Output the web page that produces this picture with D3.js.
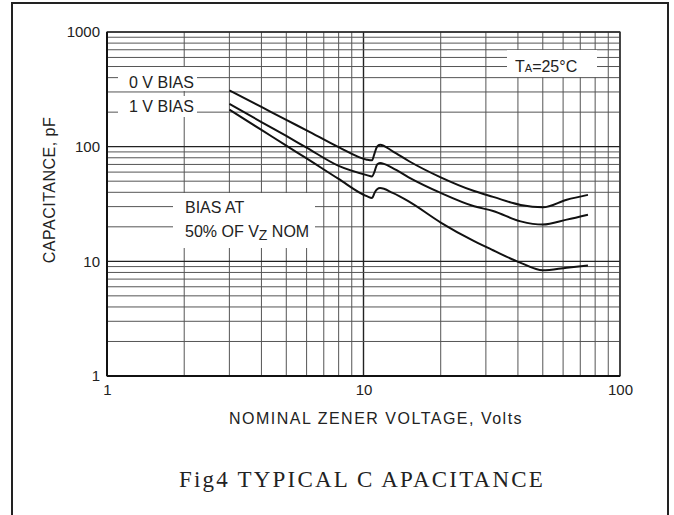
<!DOCTYPE html>
<meta charset="utf-8">
<style>

    body {
        margin: 0;
        background: #fff;
    }

    text {
        font-family: "Liberation Sans", Arial, sans-serif;
        fill: #222;
    }

    .grid line {
        stroke: #555;
        stroke-width: 1;
    }

    .grid line.major {
        stroke: #222;
        stroke-width: 1.4;
    }

    path.curve {
        fill: none;
        stroke: #111;
        stroke-width: 2;
    }

</style>
<body>
<script src="https://cdn.jsdelivr.net/npm/d3@7/dist/d3.min.js"></script>
<script>

    var width = 674;
    var height = 515;

    /////////////////////////////////
    // DATA
    /////////////////////////////////

    // nominal zener voltage, volts
    var volts = [3, 4, 5, 6, 8, 10.3, 10.8, 11.05, 11.3, 11.6, 13, 15, 20, 27, 32, 41, 50, 62, 75];

    // capacitance, pF
    var cap0V = [310, 222, 171, 139, 99, 77, 76, 88, 100, 104, 91, 75, 54, 41, 36.5, 31, 29.6, 34.5, 38];
    var cap1V = [236, 164, 124, 98, 68, 56.5, 55, 61, 70, 72, 65, 54, 39.5, 30.2, 27.5, 22.3, 20.9, 23.1, 25.5];
    var capHalf = [210, 140, 102, 79, 52.3, 37, 35.7, 39.7, 42.5, 43.5, 39.5, 33.3, 21.8, 15, 12.5, 9.7, 8.35, 8.8, 9.2];

    var xTicks = [1, 10, 100];
    var yTicks = [1, 10, 100, 1000];

    /////////////////////////////////
    // SETUP
    /////////////////////////////////

    var plot = {left: 107, right: 620, top: 32, bottom: 376};

    var svg = d3.select("body").append("svg")
        .attr("width", width)
        .attr("height", height);

    var x = d3.scaleLog().domain([1, 100]).range([plot.left, plot.right]);
    var y = d3.scaleLog().domain([1, 1000]).range([plot.bottom, plot.top]);

    // outer frame of the figure
    svg.append("rect")
        .attr("x", 12)
        .attr("y", 3)
        .attr("width", 656)
        .attr("height", 540)
        .attr("fill", "none")
        .attr("stroke", "#222")
        .attr("stroke-width", 2);

    /////////////////////////////////
    // GRID
    /////////////////////////////////

    function logSteps(lo, hi) {
        var out = [];
        for (var dec = lo; dec < hi; dec *= 10) {
            for (var k = 1; k < 10; k++) out.push(dec * k);
        }
        out.push(hi);
        return out;
    }

    function isDecade(v) {
        return Math.abs(Math.log10(v) - Math.round(Math.log10(v))) < 1e-9;
    }

    var grid = svg.append("g").attr("class", "grid");

    grid.selectAll("line.v")
        .data(logSteps(1, 100))
        .enter().append("line")
        .attr("class", function (d) { return isDecade(d) ? "v major" : "v"; })
        .attr("x1", function (d) { return x(d); })
        .attr("x2", function (d) { return x(d); })
        .attr("y1", plot.top)
        .attr("y2", plot.bottom);

    grid.selectAll("line.h")
        .data(logSteps(1, 1000))
        .enter().append("line")
        .attr("class", function (d) { return isDecade(d) ? "h major" : "h"; })
        .attr("x1", plot.left)
        .attr("x2", plot.right)
        .attr("y1", function (d) { return y(d); })
        .attr("y2", function (d) { return y(d); });

    svg.append("rect")
        .attr("x", plot.left)
        .attr("y", plot.top)
        .attr("width", plot.right - plot.left)
        .attr("height", plot.bottom - plot.top)
        .attr("fill", "none")
        .attr("stroke", "#333")
        .attr("stroke-width", 1.2);

    svg.append("line")
        .attr("x1", plot.left).attr("x2", plot.left)
        .attr("y1", plot.top).attr("y2", plot.bottom)
        .attr("stroke", "#111").attr("stroke-width", 2);

    svg.append("line")
        .attr("x1", plot.left).attr("x2", plot.right)
        .attr("y1", plot.bottom).attr("y2", plot.bottom)
        .attr("stroke", "#111").attr("stroke-width", 2);

    /////////////////////////////////
    // AXES
    /////////////////////////////////

    var yAxis = svg.append("g")
        .attr("transform", "translate(" + plot.left + ",0)")
        .call(d3.axisLeft(y).tickValues(yTicks).tickFormat(d3.format("d")).tickSize(0).tickPadding(7));

    var xAxis = svg.append("g")
        .attr("transform", "translate(0," + plot.bottom + ")")
        .call(d3.axisBottom(x).tickValues(xTicks).tickFormat(d3.format("d")).tickSize(0).tickPadding(8));

    [yAxis, xAxis].forEach(function (g) {
        g.select(".domain").remove();
        g.selectAll("text")
            .style("font-family", "'Liberation Sans', Arial, sans-serif")
            .style("font-size", "15px")
            .attr("fill", "#222");
    });

    svg.append("text")
        .attr("transform", "translate(55,190) rotate(-90)")
        .attr("text-anchor", "middle")
        .style("font-size", "16px")
        .style("letter-spacing", "0.5px")
        .text("CAPACITANCE, pF");

    svg.append("text")
        .attr("x", 376)
        .attr("y", 424)
        .attr("text-anchor", "middle")
        .style("font-size", "16px")
        .style("letter-spacing", "1.5px")
        .text("NOMINAL ZENER VOLTAGE, Volts");

    /////////////////////////////////
    // LABEL BOXES (hide grid behind text)
    /////////////////////////////////

    var boxes = [
        [118, 67, 79, 24],
        [118, 96, 79, 21],
        [173, 193, 142, 55],
        [507, 50, 90, 27]
    ];

    svg.selectAll("rect.box")
        .data(boxes)
        .enter().append("rect")
        .attr("class", "box")
        .attr("x", function (d) { return d[0]; })
        .attr("y", function (d) { return d[1]; })
        .attr("width", function (d) { return d[2]; })
        .attr("height", function (d) { return d[3]; })
        .attr("fill", "#fff");

    /////////////////////////////////
    // CURVES
    /////////////////////////////////

    var line = d3.line()
        .x(function (d) { return x(d[0]); })
        .y(function (d) { return y(d[1]); })
        .curve(d3.curveMonotoneX);

    [cap0V, cap1V, capHalf].forEach(function (series) {
        svg.append("path")
            .attr("class", "curve")
            .attr("d", line(d3.zip(volts, series)));
    });

    /////////////////////////////////
    // ANNOTATIONS
    /////////////////////////////////

    function note(tx, ty, str) {
        return svg.append("text")
            .attr("x", tx)
            .attr("y", ty)
            .style("font-size", "16px")
            .text(str);
    }

    note(129, 88, "0 V BIAS");
    note(129, 112, "1 V BIAS");
    note(185, 213, "BIAS AT");

    var vz = note(185, 237, "50% OF V");
    vz.append("tspan").attr("dy", 3).style("font-size", "14px").text("Z");
    vz.append("tspan").attr("dy", -3).text(" NOM");

    var ta = note(515, 72, "T");
    ta.append("tspan").style("font-size", "11px").text("A");
    ta.append("tspan").text("=25\u00B0C");

    svg.append("text")
        .attr("x", 362)
        .attr("y", 487)
        .attr("text-anchor", "middle")
        .style("font-family", "'Liberation Serif', 'Times New Roman', serif")
        .style("font-size", "23px")
        .style("letter-spacing", "2.2px")
        .text("Fig4 TYPICAL C APACITANCE");

</script>
</body>
</html>
